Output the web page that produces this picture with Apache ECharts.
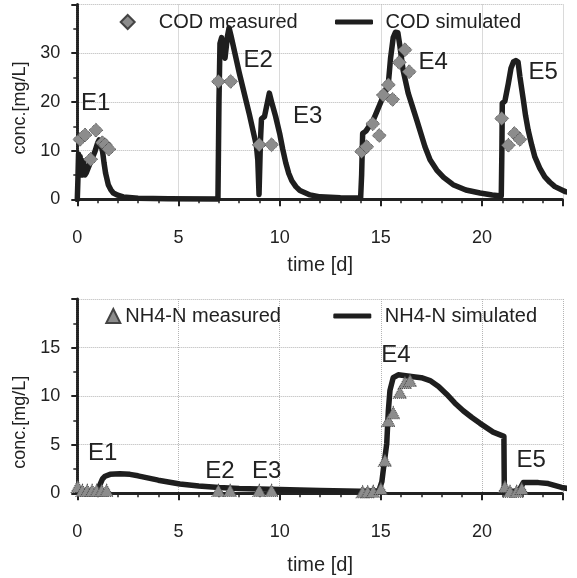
<!DOCTYPE html>
<html><head><meta charset="utf-8">
<script src="https://cdn.jsdelivr.net/npm/echarts@6/dist/echarts.min.js"></script>
<style>html,body{margin:0;padding:0;background:#fff}#c{width:577px;height:578px}</style>
</head><body><div id="c"></div>
<script>
// ---- data (time [d], conc. [mg/L]) ----
const codSimulated = [
  [0,0],[0.03,4],[0.06,9.3],[0.1,6],[0.14,8.8],[0.18,5],[0.22,8],[0.27,5],[0.32,7.5],[0.38,5],[0.45,5.5],
  [0.63,7.4],[0.87,9.8],[1.0,11.5],[1.08,12.2],[1.15,11.5],[1.25,9.8],[1.32,7.5],[1.4,5.3],[1.53,3],
  [1.65,2],[1.78,1.3],[2.0,0.85],[2.27,0.5],[3,0.2],[4.5,0.1],[6.95,0.05],
  [7.0,20],[7.05,32],[7.13,33.2],[7.22,30],[7.3,29],[7.42,33.5],[7.5,35.2],[7.6,33.5],[8.0,26],[8.5,17.5],
  [8.85,11],[8.92,8],[8.98,1],
  [9.05,12],[9.1,16.5],[9.25,17],[9.35,19],[9.49,21.8],[9.6,20],[9.8,17],[10.0,13.5],[10.15,10.3],
  [10.3,7.5],[10.45,5.3],[10.6,3.8],[10.8,2.6],[11.0,1.8],[11.5,0.9],[12.0,0.5],[13,0.3],[14.0,0.25],
  [14.05,5],[14.1,13.5],[14.26,14],[14.63,16.3],[15.04,20.4],[15.37,23.8],[15.48,29],[15.61,33.2],[15.72,34.3],
  [15.84,34.2],[15.94,31.5],[16.1,26.5],[16.35,21.8],[16.77,16.3],[17.18,10.8],[17.43,8.1],[17.76,6],
  [18.1,4.5],[18.57,3.0],[19.2,1.9],[19.9,1.3],[20.5,0.9],[20.95,0.7],
  [20.98,10],[21.0,19.7],[21.13,20.2],[21.3,23.8],[21.43,26.9],[21.55,28.2],[21.67,28.5],[21.78,28.2],
  [21.87,25.2],[22.04,20.4],[22.15,17.2],[22.28,14.2],[22.45,11.2],[22.61,8.7],[22.85,6.4],[23.1,4.6],
  [23.35,3.5],[23.6,2.6],[24.1,1.6],[24.67,1.0]
];
const codMeasured = [
  [0.13,12.3],[0.38,13.2],[0.66,8.2],[0.92,14.2],[1.24,11.6],[1.38,11.2],[1.56,10.3],
  [6.97,24.2],[7.58,24.2],[8.99,11.2],[9.6,11.2],
  [14.05,9.8],[14.3,10.8],[14.6,15.5],[14.92,13.1],[15.12,21.4],[15.37,23.5],[15.58,20.5],[15.91,28.1],
  [16.19,30.7],[16.4,26.2],
  [20.97,16.6],[21.3,11.1],[21.6,13.5],[21.87,12.3]
];
const nh4Simulated = [
  [0,0.1],[0.5,0.1],[1.0,0.15],[1.1,0.8],[1.25,1.5],[1.37,1.75],[1.62,1.95],[2.1,2.0],[2.6,1.95],[3,1.8],
  [4,1.35],[5.07,0.95],[6,0.75],[7,0.6],[8,0.5],[10,0.4],[12,0.3],[13.97,0.2],[14.9,0.25],[15.05,1.2],
  [15.12,2.4],[15.29,5.1],[15.37,8.5],[15.45,10.6],[15.61,11.9],[15.86,12.2],[16.6,12.0],[17.0,11.9],
  [17.43,11.6],[17.85,11.0],[18.25,10.2],[18.65,9.3],[19.07,8.5],[19.5,7.8],[19.9,7.2],[20.55,6.3],
  [21.08,5.86],[21.1,0.3],[21.4,0.2],[21.82,0.25],
  [22.04,1.1],[22.78,1.1],[23.27,1.0],[23.93,0.6],[24.67,0.34]
];
const nh4Measured = [
  [0.02,0.7],[0.25,0.3],[0.49,0.3],[0.73,0.3],[0.96,0.3],[1.2,0.3],[1.45,0.3],
  [6.97,0.3],[7.55,0.3],[8.99,0.3],[9.6,0.3],
  [14.1,0.15],[14.35,0.15],[14.62,0.2],[15.0,0.5],[15.2,3.4],[15.37,7.5],[15.61,8.3],[15.94,10.4],
  [16.19,11.4],[16.44,11.6],
  [21.13,0.7],[21.38,0.2],[21.71,0.2],[21.96,0.5]
];
const eventNames = ['E1','E2','E3','E4','E5'];
const codEventAt = [[0.91,19.6],[8.94,28.5],[11.38,17.1],[17.59,28.1],[23.02,26.0]];
const nh4EventAt = [[1.25,4.1],[7.05,2.26],[9.36,2.26],[15.74,14.2],[22.43,3.34]];
const xRange = [0, 24];
const codRange = [0, 40];
const nh4Range = [0, 20];

// ---- styling ----
const FONT = 'Liberation Sans, Arial, Helvetica, sans-serif';
const INK = '#222';
function xAxisDef(gridIndex, nameGap) {
  return {
    type: 'value', gridIndex, min: xRange[0], max: xRange[1], interval: 5,
    name: 'time [d]', nameLocation: 'middle', nameGap,
    nameTextStyle: { fontSize: 20, color: INK, fontFamily: FONT },
    axisLine: { onZero: false, lineStyle: { color: INK, width: 3, type: [1, 1] } },
    axisTick: { length: 7, lineStyle: { color: INK, width: 2 } },
    minorTick: { show: true, splitNumber: 5, length: 4, lineStyle: { color: INK, width: 1.5 } },
    axisLabel: { fontSize: 18, color: INK, fontFamily: FONT, margin: 30, showMaxLabel: false },
    splitLine: { show: true, lineStyle: { color: '#b5b5b5', type: 'dotted', width: 1 } }
  };
}
function yAxisDef(gridIndex, range, interval, pad) {
  return {
    type: 'value', gridIndex, min: range[0], max: range[1], interval,
    name: 'conc.[mg/L]', nameLocation: 'middle', nameGap: 45,
    nameTextStyle: { fontSize: 18, color: INK, fontFamily: FONT, padding: pad },
    axisLine: { show: true, onZero: false, lineStyle: { color: INK, width: 3, type: [1, 1] } },
    axisTick: { show: true, length: 6, lineStyle: { color: INK, width: 2 } },
    minorTick: { show: true, splitNumber: 2, length: 4, lineStyle: { color: INK, width: 1.5 } },
    axisLabel: { fontSize: 18, color: INK, fontFamily: FONT, margin: 17, showMaxLabel: false },
    splitLine: { show: true, lineStyle: { color: '#b5b5b5', type: 'dotted', width: 1 } }
  };
}
function legendDef(name, icon, left, top, w, h, padL) {
  return {
    data: [{ name, icon }], left, top, itemWidth: w, itemHeight: h,
    selectedMode: false,
    textStyle: { fontSize: 20, color: INK, fontFamily: FONT, padding: [0, 0, 0, padL] }
  };
}
const measStyle = { color: '#8c8c8c', borderColor: '#444', borderWidth: 1, borderType: 'dotted', opacity: 1 };
function labelSeries(xi, yi, at) {
  return {
    type: 'scatter', xAxisIndex: xi, yAxisIndex: yi, silent: true, z: 5,
    symbol: 'circle', symbolSize: 1, itemStyle: { color: 'rgba(0,0,0,0)', opacity: 1 },
    data: at.map((p, i) => ({ value: [p[0], p[1]], name: eventNames[i] })),
    label: { show: true, position: 'inside', formatter: p => p.name, fontSize: 24,
             color: INK, fontFamily: FONT, opacity: 1 }
  };
}

const option = {
  animation: false,
  backgroundColor: '#fff',
  textStyle: { fontFamily: FONT },
  grid: [
    { left: 77.3, top: 4.5, width: 485.7, height: 194.8 },
    { left: 77.3, top: 299, width: 485.7, height: 194.3 }
  ],
  xAxis: [xAxisDef(0, 56), xAxisDef(1, 62)],
  yAxis: [yAxisDef(0, codRange, 10, [0, 12, 0, 0]), yAxisDef(1, nh4Range, 5, [0, 52, 0, 0])],
  legend: [
    legendDef('COD measured', 'diamond', 114.7, 7, 14, 14, 19),
    legendDef('COD simulated', 'roundRect', 330, 7, 38, 5, 7.5),
    legendDef('NH4-N measured', 'triangle', 100.3, 301, 14, 14, 0),
    legendDef('NH4-N simulated', 'roundRect', 328.3, 301, 38, 5, 8.5)
  ],
  series: [
    { name: 'COD simulated', type: 'line', xAxisIndex: 0, yAxisIndex: 0, data: codSimulated,
      showSymbol: false, symbol: 'none', clip: false, color: '#1e1e1e', z: 2,
      lineStyle: { width: 5.5, color: '#1e1e1e', join: 'round', cap: 'round' } },
    { name: 'COD measured', type: 'scatter', xAxisIndex: 0, yAxisIndex: 0, data: codMeasured,
      symbol: 'diamond', symbolSize: 14, itemStyle: measStyle, z: 3 },
    { name: 'NH4-N simulated', type: 'line', xAxisIndex: 1, yAxisIndex: 1, data: nh4Simulated,
      showSymbol: false, symbol: 'none', clip: false, color: '#1e1e1e', z: 2,
      lineStyle: { width: 5.5, color: '#1e1e1e', join: 'round', cap: 'round' } },
    { name: 'NH4-N measured', type: 'scatter', xAxisIndex: 1, yAxisIndex: 1, data: nh4Measured,
      symbol: 'triangle', symbolSize: [13, 12], itemStyle: measStyle, z: 3 },
    labelSeries(0, 0, codEventAt),
    labelSeries(1, 1, nh4EventAt)
  ]
};
const chart = echarts.init(document.getElementById('c'), null, { renderer: 'canvas' });
chart.setOption(option);
</script>
</body></html>
